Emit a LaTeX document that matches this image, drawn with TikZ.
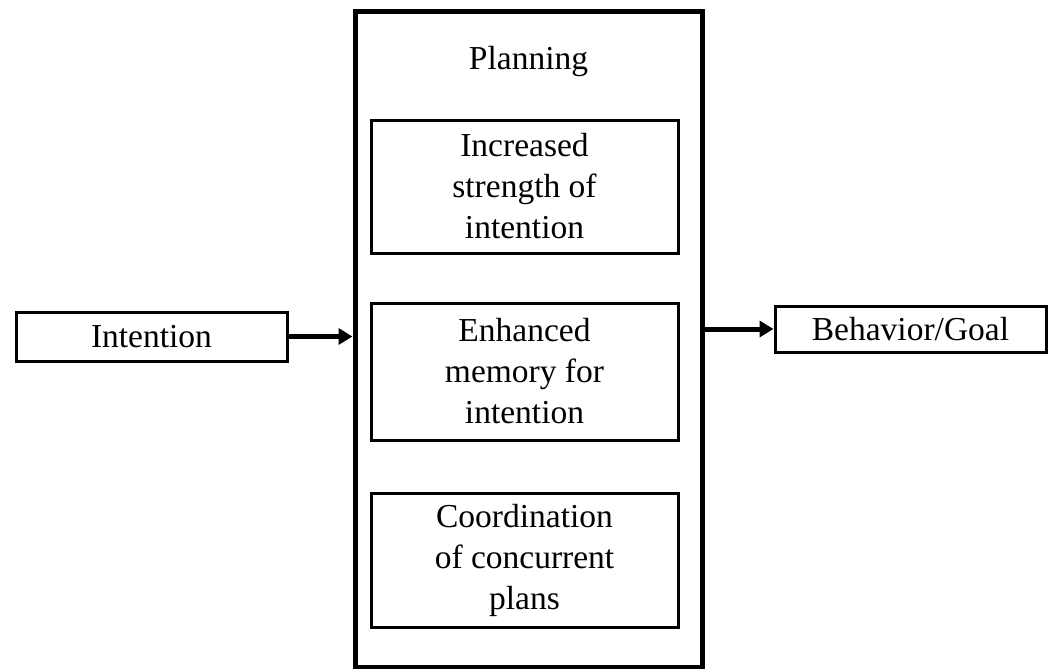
\documentclass[tikz,border=0pt]{standalone}
\usepackage{fontspec}
\setmainfont{Liberation Serif}
\usetikzlibrary{arrows.meta,positioning,calc}

\begin{document}
\begin{tikzpicture}[x=1pt,y=-1pt,
 box/.style={draw=black,line width=3pt,align=center,inner sep=0pt,
 font=\fontsize{33.5}{41}\selectfont},
 inbox/.style={box,minimum width=307pt,minimum height=134pt},
 endbox/.style={box,minimum width=271pt,minimum height=48pt},
 arr/.style={-{Triangle[length=14pt,width=16pt]},line width=5pt,draw=black}]
 \useasboundingbox (0,0) rectangle (1049,669);
 \node[draw=black,line width=5pt,minimum width=347pt,minimum height=655pt]
 (outer) at (528.5,339.5) {};
 \node[font=\fontsize{33.5}{41}\selectfont] (title) at (528.5,61) {Planning};
 \node[inbox,minimum height=133pt] (strength) at (524.5,186.5)
 {Increased\\strength of\\intention};
 \node[inbox,minimum height=137pt] (memory) at (524.5,371.5)
 {Enhanced\\memory for\\intention};
 \node[inbox] (coord) at (524.5,560) {Coordination\\of concurrent\\plans};
 \node[endbox,minimum height=49pt] (intent) at (151.5,336.5) {Intention};
 \node[endbox,minimum height=46pt] (goal) at (910.5,329) {Behavior/Goal};
 \draw[arr] (intent.east) -- (intent.east -| outer.west);
 \draw[arr] (outer.east |- goal.west) -- (goal.west);
\end{tikzpicture}
\end{document}
